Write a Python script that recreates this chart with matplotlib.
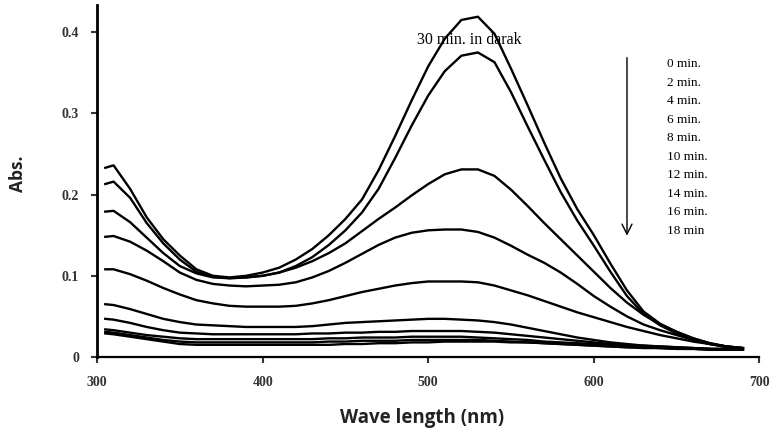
import matplotlib.pyplot as plt
from matplotlib.ticker import FixedLocator, FixedFormatter

# wavelength grid (nm)
wl = [305, 310, 320, 330, 340, 350, 360, 370, 380, 390,
      400, 410, 420, 430, 440, 450, 460, 470, 480, 490,
      500, 510, 520, 530, 540, 550, 560, 570, 580, 590,
      600, 610, 620, 630, 640, 650, 660, 670, 680, 690]

abs_a = [.233, .236, .207, .172, .145, .125, .108, .100, .098, .100,
         .104, .110, .120, .133, .150, .170, .194, .230, .272, .316,
         .358, .392, .415, .419, .398, .355, .310, .264, .220, .182,
         .150, .115, .082, .056, .041, .031, .023, .017, .013, .011]
abs_b = [.213, .216, .196, .165, .140, .120, .105, .099, .097, .098,
         .100, .104, .112, .123, .138, .156, .178, .207, .245, .285,
         .322, .352, .371, .375, .363, .326, .284, .243, .203, .168,
         .137, .105, .075, .053, .039, .029, .021, .016, .012, .010]
abs_c = [.179, .180, .166, .147, .128, .112, .103, .098, .097, .098,
         .100, .104, .110, .118, .128, .140, .155, .170, .184, .199,
         .213, .225, .231, .231, .223, .206, .186, .165, .145, .125,
         .105, .085, .067, .052, .040, .031, .023, .017, .013, .011]
abs_d = [.148, .149, .142, .131, .118, .104, .095, .090, .088, .087,
         .088, .089, .092, .098, .106, .116, .127, .138, .147, .153,
         .156, .157, .157, .154, .147, .137, .126, .116, .104, .090,
         .075, .062, .050, .040, .033, .027, .021, .016, .013, .011]
abs_e = [.108, .108, .102, .094, .085, .077, .070, .066, .063, .062,
         .062, .062, .063, .066, .070, .075, .080, .084, .088, .091,
         .093, .093, .093, .092, .088, .082, .076, .069, .062, .055,
         .049, .043, .037, .032, .027, .023, .019, .016, .013, .011]
abs_f = [.065, .064, .059, .053, .047, .043, .040, .039, .038, .037,
         .037, .037, .037, .038, .040, .042, .043, .044, .045, .046,
         .047, .047, .046, .045, .043, .040, .036, .032, .028, .024,
         .021, .018, .016, .014, .013, .012, .011, .010, .009, .009]
abs_g = [.047, .046, .042, .037, .033, .030, .029, .028, .028, .028,
         .028, .028, .028, .029, .029, .030, .030, .031, .031, .032,
         .032, .032, .032, .031, .030, .028, .026, .024, .022, .020,
         .018, .016, .015, .014, .013, .012, .011, .010, .010, .009]
abs_h = [.034, .033, .030, .027, .025, .023, .022, .022, .022, .022,
         .022, .022, .022, .022, .023, .023, .024, .024, .024, .025,
         .025, .025, .025, .024, .023, .022, .021, .019, .018, .017,
         .016, .015, .014, .013, .012, .011, .011, .010, .010, .009]
abs_j = [.031, .030, .027, .024, .021, .019, .018, .018, .018, .018,
         .018, .018, .018, .018, .019, .019, .020, .020, .020, .021,
         .021, .021, .021, .021, .020, .019, .018, .017, .016, .015,
         .014, .013, .012, .012, .011, .010, .010, .009, .009, .009]
abs_i = [.029, .028, .025, .022, .019, .016, .015, .015, .015, .015,
         .015, .015, .015, .015, .015, .016, .016, .017, .017, .018,
         .018, .019, .019, .019, .019, .018, .018, .017, .016, .015,
         .014, .013, .012, .011, .011, .010, .010, .009, .009, .009]

series = [abs_a, abs_b, abs_c, abs_d, abs_e, abs_f, abs_g, abs_h, abs_j, abs_i]

time_labels = ["0 min.", "2 min.", "4 min.", "6 min.", "8 min.",
               "10 min.", "12 min.", "14 min.", "16 min.", "18 min"]
x_ticks = [300, 400, 500, 600, 700]
y_ticks = [0, 0.1, 0.2, 0.3, 0.4]
y_tick_labels = ["0", "0.1", "0.2", "0.3", "0.4"]

fig = plt.figure(figsize=(7.73, 4.33), dpi=100)
ax = fig.add_axes([0.1255, 0.1755, 0.857, 0.8125])

for s in series:
    ax.plot(wl, s, color='black', lw=1.7, solid_joinstyle='round')

ax.set_xlim(300, 700)
ax.set_ylim(0, 0.4332)
ax.spines['top'].set_visible(False)
ax.spines['right'].set_visible(False)
ax.spines['left'].set_linewidth(2)
ax.spines['bottom'].set_linewidth(1.6)

ax.xaxis.set_major_locator(FixedLocator(x_ticks))
ax.yaxis.set_major_locator(FixedLocator(y_ticks))
ax.yaxis.set_major_formatter(FixedFormatter(y_tick_labels))
ax.tick_params(direction='out', length=4, width=1.5, labelsize=10, colors='#333333')
ax.tick_params(axis='x', pad=10)
ax.tick_params(axis='y', pad=9)
for lab in ax.get_xticklabels() + ax.get_yticklabels():
    lab.set_family('Liberation Serif')
    lab.set_fontweight('bold')

ax.set_xlabel("Wave length (nm)", family='Open Sans', fontweight='bold',
              fontsize=13.5, color='#222222')
ax.xaxis.set_label_coords(0.49, -0.145)
ax.set_ylabel("Abs.", family='Open Sans', fontweight='bold', fontsize=12.5,
              color='#222222')
ax.yaxis.set_label_coords(-0.105, 0.52)

ax.text(525, 0.39, "30 min. in darak", family='Liberation Serif', fontsize=11.5,
        ha='center', va='center')

for i, t in enumerate(time_labels):
    ax.text(644, 0.3606 - i * 0.0228, t, family='Liberation Serif', fontsize=9.5,
            ha='left', va='center')

ax.annotate('', xy=(620, 0.146), xytext=(620, 0.372),
            arrowprops=dict(arrowstyle='->', color='black', lw=1, mutation_scale=18))

plt.savefig('out.png', dpi=100)
